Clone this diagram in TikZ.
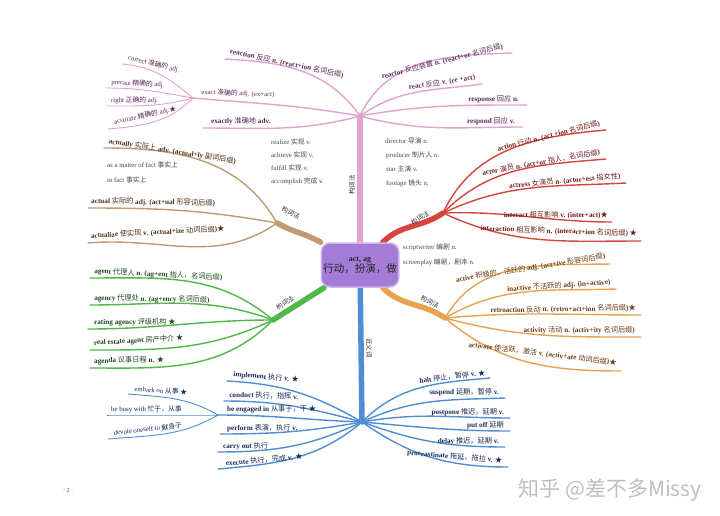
\documentclass[tikz,border=0pt]{standalone}
\usepackage{fontspec}
\setmainfont{Liberation Serif}
\newfontfamily\cjk{Noto Sans CJK SC}
\newcommand{\zh}[1]{{\cjk\mdseries #1}}
\newcommand{\bstar}{{\cjk\mdseries ★}}
\definecolor{mypink}{HTML}{E2A3CD}
\definecolor{mybrown}{HTML}{BF9A72}
\definecolor{myred}{HTML}{D5473E}
\definecolor{myorange}{HTML}{E9A24E}
\definecolor{mygreen}{HTML}{4FB848}
\definecolor{myblue}{HTML}{4F8ED3}
\definecolor{mypurple}{HTML}{A57BD8}
\definecolor{pinktext}{HTML}{5A2A55}
\definecolor{browntext}{HTML}{4A3218}
\definecolor{redtext}{HTML}{6E1A1A}
\definecolor{orangetext}{HTML}{6A3A10}
\definecolor{greentext}{HTML}{1E4A1E}
\definecolor{bluetext}{HTML}{1A2A5A}
\definecolor{notetext}{HTML}{4A4A4A}
\usepackage{tikz}
\usetikzlibrary{positioning, backgrounds}
\tikzset{
	centernode/.style={
			rounded corners=9pt,
			draw=mypurple!55,
			line width=1.5pt,
			fill=mypurple,
			text=black!85,
			minimum width=76pt,
			minimum height=44pt,
			align=center,
			inner sep=2pt
		},
	branchlabel/.style={
			font=\fontsize{7.2}{8}\selectfont\bfseries,
			inner sep=1pt
		},
	sublabel/.style={
			font=\fontsize{6.8}{8}\selectfont,
			inner sep=1pt
		},
	notelabel/.style={
			font=\fontsize{6.8}{8}\selectfont,
			text=notetext,
			anchor=west,
			inner sep=0pt
		},
	trunklabel/.style={
			font=\fontsize{6.5}{7}\selectfont,
			text=black!80,
			inner sep=0pt
		},
	trunkline/.style={
			line width=5.5pt,
			line cap=round
		},
	branchline/.style={
			line width=1.4pt,
			line cap=round
		},
	twigline/.style={
			line width=0.9pt,
			line cap=round
		}
}

\begin{document}
\begin{tikzpicture}[x=1pt, y=-1pt]
\useasboundingbox (0,0) rectangle (720,516);

\node[centernode] (core) at (360,265) {{\fontsize{8}{9}\selectfont\bfseries act, ag}\\[-1pt]{\fontsize{10.5}{12}\selectfont\zh{行动，扮演，做}}};

% hubs and free ends
\coordinate (hubP) at (360,116);
\coordinate (hubE) at (193,98);
\coordinate (hubB) at (277,223);
\coordinate (hubR) at (443,213);
\coordinate (hubO) at (445,318);
\coordinate (hubG) at (273,320);
\coordinate (hubBl) at (362,422);
\coordinate (hubEn) at (218,415);

\coordinate (pRtn) at (225,59);
\coordinate (pExy) at (203,128);
\coordinate (pCor) at (122,64);
\coordinate (pPre) at (106,88);
\coordinate (pRig) at (106,106);
\coordinate (pAcc) at (108,129);
\coordinate (pRor) at (512,53);
\coordinate (pRct) at (482,84);
\coordinate (pRse) at (527,105);
\coordinate (pRsd) at (523,127);

\coordinate (pAly) at (104,148);
\coordinate (pAl) at (88,208);
\coordinate (pAze) at (88,243);

\coordinate (pAcn) at (606,130);
\coordinate (pAct) at (606,159);
\coordinate (pAss) at (626,183);
\coordinate (pIat) at (612,222);
\coordinate (pIan) at (641,241);

\coordinate (pAve) at (610,264);
\coordinate (pIna) at (616,289);
\coordinate (pRet) at (641,315);
\coordinate (pAty) at (641,337);
\coordinate (pAte) at (621,371);

\coordinate (pAgt) at (90,278);
\coordinate (pAgy) at (90,305);
\coordinate (pRat) at (88,329);
\coordinate (pRea) at (90,350);
\coordinate (pAgd) at (90,368);

\coordinate (pImp) at (227,381);
\coordinate (pCon) at (224,401);
\coordinate (pPer) at (220,434);
\coordinate (pCar) at (218,452);
\coordinate (pExe) at (218,469);
\coordinate (pEmb) at (128,394);
\coordinate (pBus) at (107,415);
\coordinate (pDev) at (108,439);
\coordinate (pHal) at (490,378);
\coordinate (pSus) at (505,398);
\coordinate (pPos) at (510,418);
\coordinate (pPut) at (510,431);
\coordinate (pDel) at (505,447);
\coordinate (pPro) at (508,467);

\begin{scope}[on background layer]
\fill[white] (0,0) rectangle (720,516);

\draw[trunkline, mypink] (core) -- (hubP);
\draw[branchline, mypink] (pRtn) to[out=-3, in=125] (hubP);
\draw[branchline, mypink] (hubE) to[out=-5, in=170] (hubP);
\draw[branchline, mypink] (pExy) to[out=0, in=195] (hubP);
\draw[twigline, mypink] (pCor) to[out=-5, in=140] (hubE);
\draw[twigline, mypink] (pPre) to[out=0, in=170] (hubE);
\draw[twigline, mypink] (pRig) to[out=0, in=195] (hubE);
\draw[twigline, mypink] (pAcc) to[out=5, in=225] (hubE);
\draw[branchline, mypink] (hubP) to[out=65, in=182] (pRor);
\draw[branchline, mypink] (hubP) to[out=35, in=188] (pRct);
\draw[branchline, mypink] (hubP) to[out=10, in=180] (pRse);
\draw[branchline, mypink] (hubP) to[out=-15, in=180] (pRsd);

\draw[trunkline, mybrown] (core) to[out=150, in=-30] (hubB);
\draw[branchline, mybrown] (pAly) to[out=0, in=120] (hubB);
\draw[branchline, mybrown] (pAl) to[out=0, in=170] (hubB);
\draw[branchline, mybrown] (pAze) to[out=5, in=215] (hubB);

\draw[trunkline, myred] (core) to[out=45, in=215] (hubR);
\draw[branchline, myred] (hubR) to[out=65, in=185] (pAcn);
\draw[branchline, myred] (hubR) to[out=45, in=185] (pAct);
\draw[branchline, myred] (hubR) to[out=25, in=183] (pAss);
\draw[branchline, myred] (hubR) to[out=2, in=180] (pIat);
\draw[branchline, myred] (hubR) to[out=-25, in=180] (pIan);

\draw[trunkline, myorange] (core) to[out=-45, in=145] (hubO);
\draw[branchline, myorange] (hubO) to[out=60, in=181] (pAve);
\draw[branchline, myorange] (hubO) to[out=30, in=182] (pIna);
\draw[branchline, myorange] (hubO) to[out=5, in=180] (pRet);
\draw[branchline, myorange] (hubO) to[out=-15, in=180] (pAty);
\draw[branchline, myorange] (hubO) to[out=-40, in=180] (pAte);

\draw[trunkline, mygreen] (core) -- (hubG);
\draw[branchline, mygreen] (pAgt) to[out=0, in=140] (hubG);
\draw[branchline, mygreen] (pAgy) to[out=0, in=160] (hubG);
\draw[branchline, mygreen] (pRat) to[out=0, in=180] (hubG);
\draw[branchline, mygreen] (pRea) to[out=0, in=205] (hubG);
\draw[branchline, mygreen] (pAgd) to[out=0, in=225] (hubG);

\draw[trunkline, myblue] (core) -- (hubBl);
\draw[branchline, myblue] (pImp) to[out=-3, in=150] (hubBl);
\draw[branchline, myblue] (pCon) to[out=0, in=165] (hubBl);
\draw[branchline, myblue] (hubEn) to[out=0, in=178] (hubBl);
\draw[branchline, myblue] (pPer) to[out=0, in=190] (hubBl);
\draw[branchline, myblue] (pCar) to[out=0, in=205] (hubBl);
\draw[branchline, myblue] (pExe) to[out=5, in=220] (hubBl);
\draw[twigline, myblue] (pEmb) to[out=-5, in=150] (hubEn);
\draw[twigline, myblue] (pBus) to[out=0, in=180] (hubEn);
\draw[twigline, myblue] (pDev) to[out=5, in=210] (hubEn);
\draw[branchline, myblue] (hubBl) to[out=45, in=185] (pHal);
\draw[branchline, myblue] (hubBl) to[out=25, in=182] (pSus);
\draw[branchline, myblue] (hubBl) to[out=10, in=180] (pPos);
\draw[branchline, myblue] (hubBl) to[out=-5, in=180] (pPut);
\draw[branchline, myblue] (hubBl) to[out=-20, in=180] (pDel);
\draw[branchline, myblue] (hubBl) to[out=-35, in=180] (pPro);
\end{scope}

% trunk labels
\node[trunklabel, rotate=90] (kP) at (352,185) {\zh{构词法}};
\node[trunklabel, rotate=-28] (kB) at (291,213) {\zh{构词法}};
\node[trunklabel, rotate=30] (kR) at (420,218) {\zh{构词法}};
\node[trunklabel, rotate=-28] (kO) at (430,302) {\zh{构词法}};
\node[trunklabel, rotate=35] (kG) at (285,303) {\zh{构词法}};
\node[trunklabel, rotate=-90] (kBl) at (369,348) {\zh{近义词}};

% pink
\node[branchlabel, text=pinktext, anchor=south west, rotate=-12] (tRtn) at (228,56) {reaction \zh{反应} n. (react+ion \zh{名词后缀})};
\node[sublabel, text=pinktext, anchor=south west, rotate=-2] (tExt) at (200,97) {exact \zh{准确的} adj. (ex+act)};
\node[branchlabel, text=pinktext, anchor=south west] (tExy) at (210,126) {exactly \zh{准确地} adv.};
\node[sublabel, text=pinktext, anchor=south west, rotate=-14] (tCor) at (126,62) {correct \zh{准确的} adj.};
\node[sublabel, text=pinktext, anchor=south west, rotate=-3] (tPre) at (110,87) {precise \zh{精确的} adj.};
\node[sublabel, text=pinktext, anchor=south west] (tRig) at (110,105) {right \zh{正确的} adj.};
\node[sublabel, text=pinktext, anchor=south west, rotate=12] (tAcc) at (114,127) {accurate \zh{精确的} adj.\bstar};
\node[branchlabel, text=pinktext, anchor=south east, rotate=14] (tRor) at (505,51) {reactor \zh{反应装置} n. (react+or \zh{名词后缀})};
\node[branchlabel, text=pinktext, anchor=south east, rotate=9] (tRct) at (477,82) {react \zh{反应} v. (re +act)};
\node[branchlabel, text=pinktext, anchor=south east] (tRse) at (520,104) {response \zh{回应} n.};
\node[branchlabel, text=pinktext, anchor=south east] (tRsd) at (516,126) {respond \zh{回应} v.};

% brown
\node[branchlabel, text=browntext, anchor=south west, rotate=-9] (tAly) at (107,146) {actually \zh{实际上} adv. (actual+ly \zh{副词后缀})};
\node[branchlabel, text=browntext, anchor=south west, rotate=-1] (tAl) at (90,206) {actual \zh{实际的} adj. (act+ual \zh{形容词后缀})};
\node[branchlabel, text=browntext, anchor=south west, rotate=3] (tAze) at (90,241) {actualize \zh{使实现} v. (actual+ize \zh{动词后缀})\bstar};

% notes
\node[notelabel] (nMat) at (107,165) {as a matter of fact \zh{事实上}};
\node[notelabel] (nFac) at (107,180) {in fact \zh{事实上}};
\node[notelabel] (nRea) at (271,142) {realize \zh{实现} v.};
\node[notelabel] (nAch) at (271,155) {achieve \zh{实现} v.};
\node[notelabel] (nFul) at (271,168) {fulfill \zh{实现} v.};
\node[notelabel] (nAcm) at (271,181) {accomplish \zh{完成} v.};
\node[notelabel] (nDir) at (385,141) {director \zh{导演} n.};
\node[notelabel] (nPrd) at (386,155) {producer \zh{制片人} n.};
\node[notelabel] (nSta) at (386,169) {star \zh{主演} v.};
\node[notelabel] (nFoo) at (386,183) {footage \zh{镜头} n.};
\node[notelabel] (nScr) at (403,247) {scriptwriter \zh{编剧} n.};
\node[notelabel] (nScp) at (403,262) {screenplay \zh{编剧，剧本} n.};

% red
\node[branchlabel, text=redtext, anchor=south east, rotate=14] (tAcn) at (602,128) {action \zh{行动} n. (act +ion \zh{名词后缀})};
\node[branchlabel, text=redtext, anchor=south east, rotate=10] (tAct) at (602,157) {actor \zh{演员} n. (act+or \zh{指人，名词后缀})};
\node[branchlabel, text=redtext, anchor=south east, rotate=5] (tAss) at (622,181) {actress \zh{女演员} n. (actor+ess \zh{指女性})};
\node[branchlabel, text=redtext, anchor=south east] (tIat) at (609,220) {interact \zh{相互影响} v. (inter+act)\bstar};
\node[branchlabel, text=redtext, anchor=south east, rotate=-2] (tIan) at (638,239) {interaction \zh{相互影响} n. (interact+ion \zh{名词后缀}) \bstar};

% orange
\node[branchlabel, text=orangetext, anchor=south east, rotate=9] (tAve) at (607,261) {active \zh{积极的，活跃的} adj. (act+ive \zh{形容词后缀})};
\node[branchlabel, text=orangetext, anchor=south east, rotate=4] (tIna) at (612,287) {inactive \zh{不活跃的} adj. (in+active)};
\node[branchlabel, text=orangetext, anchor=south east, rotate=1] (tRet) at (637,313) {retroaction \zh{反动} n. (retro+act+ion \zh{名词后缀})\bstar};
\node[branchlabel, text=orangetext, anchor=south east] (tAty) at (636,335) {activity \zh{活动} n. (activ+ity \zh{名词后缀})};
\node[branchlabel, text=orangetext, anchor=south east, rotate=-7] (tAte) at (617,368) {activate \zh{使活跃，激活} v. (activ+ate \zh{动词后缀})\bstar};

% green
\node[branchlabel, text=greentext, anchor=south west, rotate=-3] (tAgt) at (93,276) {agent \zh{代理人} n. (ag+ent \zh{指人，名词后缀})};
\node[branchlabel, text=greentext, anchor=south west, rotate=-1] (tAgy) at (93,303) {agency \zh{代理处} n. (ag+ency \zh{名词后缀})};
\node[branchlabel, text=greentext, anchor=south west] (tRat) at (93,327) {rating agency \zh{评级机构} \bstar};
\node[branchlabel, text=greentext, anchor=south west, rotate=3] (tRea) at (93,348) {real estate agent \zh{房产中介} \bstar};
\node[branchlabel, text=greentext, anchor=south west, rotate=1] (tAgd) at (93,366) {agenda \zh{议事日程} n. \bstar};

% blue
\node[branchlabel, text=bluetext, anchor=south west, rotate=-5] (tImp) at (232,379) {implement \zh{执行} v. \bstar};
\node[branchlabel, text=bluetext, anchor=south west, rotate=-2] (tCon) at (228,399) {conduct \zh{执行，指挥} v.};
\node[branchlabel, text=bluetext, anchor=south west] (tEng) at (226,414) {be engaged in \zh{从事于，干} \bstar};
\node[branchlabel, text=bluetext, anchor=south west] (tPer) at (226,433) {perform \zh{表演，执行} v.};
\node[branchlabel, text=bluetext, anchor=south west] (tCar) at (222,451) {carry out \zh{执行}};
\node[branchlabel, text=bluetext, anchor=south west, rotate=5] (tExe) at (225,468) {execute \zh{执行，完成} v. \bstar};
\node[sublabel, text=bluetext, anchor=south west, rotate=-4] (tEmb) at (133,393) {embark on \zh{从事} \bstar};
\node[sublabel, text=bluetext, anchor=south west] (tBus) at (110,414) {be busy with \zh{忙于，从事}};
\node[sublabel, text=bluetext, anchor=south west, rotate=6] (tDev) at (113,437) {devote oneself to \zh{献身于}};
\node[branchlabel, text=bluetext, anchor=south east, rotate=7] (tHal) at (487,377) {halt \zh{停止，暂停} v. \bstar};
\node[branchlabel, text=bluetext, anchor=south east] (tSus) at (500,397) {suspend \zh{延期，暂停} v.};
\node[branchlabel, text=bluetext, anchor=south east] (tPos) at (505,417) {postpone \zh{推迟，延期} v.};
\node[branchlabel, text=bluetext, anchor=south east] (tPut) at (505,430) {put off \zh{延期}};
\node[branchlabel, text=bluetext, anchor=south east] (tDel) at (500,446) {delay \zh{推迟，延期} v.};
\node[branchlabel, text=bluetext, anchor=south east, rotate=-5] (tPro) at (503,466) {procrastinate \zh{拖延，拖拉} v. \bstar};

\node[font=\fontsize{6}{7}\selectfont, text=black!70] (pagenum) at (68,491) {· 2 ·};
\node[font=\cjk\fontsize{21}{22}\selectfont, text=black!25] (mark) at (610,490) {知乎 @差不多Missy};

\end{tikzpicture}
\end{document}
